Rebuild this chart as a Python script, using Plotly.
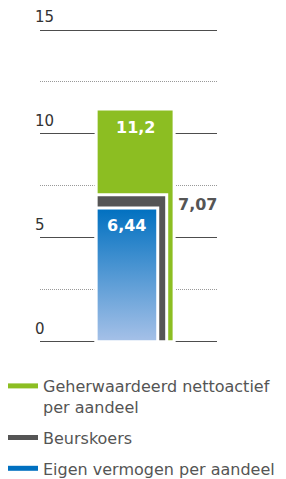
import plotly.graph_objects as go

# ---- data ----
series_names = ["Geherwaardeerd nettoactief<br>per aandeel", "Beurskoers", "Eigen vermogen per aandeel"]
series_values = [11.2, 7.07, 6.44]
value_labels = ["11,2", "7,07", "6,44"]
tick_values = [0, 5, 10, 15]
tick_labels = ["0", "5", "10", "15"]

# ---- style ----
colors = ["#8CBE22", "#555555", "#0070C0"]
bar_widths = [1.0, 0.905, 0.79]
FONT = "DejaVu Sans"

fig = go.Figure()

# green and gray bars (overlaid, left-aligned)
for i in range(2):
    fig.add_trace(go.Bar(
        x=[0], y=[series_values[i]], width=[bar_widths[i]], offset=0,
        marker=dict(color=colors[i], line=dict(color="white", width=3)),
        showlegend=False, hoverinfo="skip",
    ))

# blue bar with vertical gradient
bw = bar_widths[2]
bv = series_values[2]
fig.add_trace(go.Scatter(
    x=[0, 0, bw, bw, 0], y=[0, bv, bv, 0, 0], mode="lines", fill="toself",
    fillgradient=dict(type="vertical", colorscale=[[0, "#A6C1E8"], [1, "#0070C0"]]),
    line=dict(color="white", width=3),
    showlegend=False, hoverinfo="skip",
))

# legend entries
for i in range(3):
    fig.add_trace(go.Scatter(
        x=[0], y=[0], mode="lines", name=series_names[i],
        line=dict(color=colors[i], width=5), legendgroup=str(i), hoverinfo="skip",
    ))

# value labels
fig.add_annotation(x=bar_widths[0] / 2, y=series_values[0], text=value_labels[0],
                   showarrow=False, yshift=-18,
                   font=dict(family=FONT, size=16, color="white", weight="bold"))
fig.add_annotation(x=bar_widths[0], y=series_values[1], text=value_labels[1],
                   showarrow=False, xanchor="left", xshift=2, yshift=-10,
                   font=dict(family=FONT, size=16, color="#555555", weight="bold"))
fig.add_annotation(x=bar_widths[2] / 2, y=series_values[2], text=value_labels[2],
                   showarrow=False, yshift=-18,
                   font=dict(family=FONT, size=16, color="white", weight="bold"))

fig.update_layout(
    width=278, height=471,
    margin=dict(l=32, r=69, t=0, b=136, autoexpand=False),
    paper_bgcolor="white", plot_bgcolor="white",
    barmode="overlay",
    xaxis=dict(range=[-0.72, 1.55], visible=False, fixedrange=True),
    yaxis=dict(
        range=[-0.06, 16.06], tickvals=tick_values, ticktext=tick_labels,
        showgrid=True, gridcolor="#4d4d4d", gridwidth=1,
        zeroline=True, zerolinecolor="#4d4d4d", zerolinewidth=1,
        showline=False, ticks="",
        ticklabelposition="inside", ticklabelstandoff=-8, ticklabelshift=-13,
        tickfont=dict(family=FONT, size=15, color="#333333"),
        minor=dict(dtick=2.5, showgrid=True, gridcolor="#999999", griddash="1px,1px", gridwidth=1),
        fixedrange=True,
    ),
    legend=dict(
        x=-0.209, y=-0.0776, xref="paper", yref="paper",
        xanchor="left", yanchor="top",
        valign="top", tracegroupgap=7, itemwidth=30,
        font=dict(family=FONT, size=16, color="#555555"),
        bgcolor="rgba(0,0,0,0)",
    ),
    showlegend=True,
)

fig.write_html("out.html")
